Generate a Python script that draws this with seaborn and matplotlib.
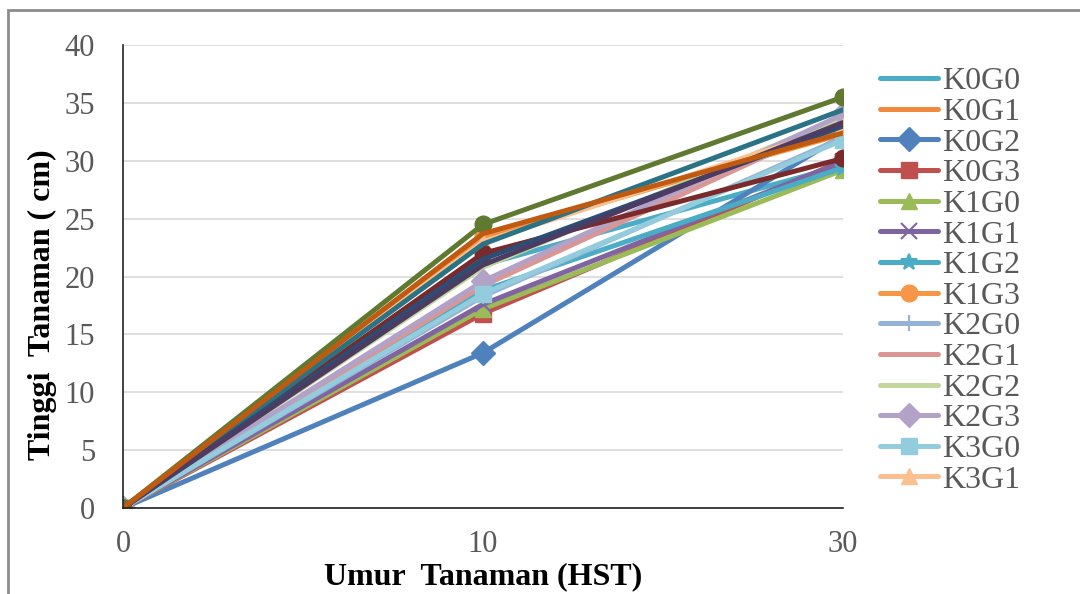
import matplotlib
matplotlib.use("Agg")
import matplotlib.pyplot as plt
import seaborn as sns
import pandas as pd
from matplotlib.patches import Rectangle

# ---- data ----
categories = ["0", "10", "30"]
series_names = ["K0G0", "K0G1", "K0G2", "K0G3", "K1G0", "K1G1", "K1G2", "K1G3",
                "K2G0", "K2G1", "K2G2", "K2G3", "K3G0", "K3G1",
                "K3G2", "K3G3", "K4G0", "K4G1", "K4G2", "K4G3"]
K0G0 = [0, 21.0, 29.6]
K0G1 = [0, 23.3, 32.5]
K0G2 = [0, 13.4, 32.2]
K0G3 = [0, 16.8, 30.0]
K1G0 = [0, 17.2, 29.2]
K1G1 = [0, 17.6, 29.9]
K1G2 = [0, 18.8, 29.4]
K1G3 = [0, 23.6, 32.3]
K2G0 = [0, 18.3, 32.0]
K2G1 = [0, 19.2, 33.5]
K2G2 = [0, 20.8, 33.8]
K2G3 = [0, 19.6, 34.0]
K3G0 = [0, 18.5, 31.8]
K3G1 = [0, 23.0, 33.0]
K3G2 = [0, 22.0, 30.2]
K3G3 = [0, 24.5, 35.5]
K4G0 = [0, 22.8, 34.4]
K4G1 = [0, 21.5, 33.0]
K4G2 = [0, 21.0, 33.3]
K4G3 = [0, 23.7, 32.4]
values = [K0G0, K0G1, K0G2, K0G3, K1G0, K1G1, K1G2, K1G3, K2G0, K2G1,
          K2G2, K2G3, K3G0, K3G1, K3G2, K3G3, K4G0, K4G1, K4G2, K4G3]

# ---- styles ----
colors = ["#4BACC6", "#F08A3C", "#4F81BD", "#C0504D", "#9BBB59", "#8064A2",
          "#4BACC6", "#F79646", "#95B3D7", "#D99694", "#C3D69B", "#B3A2C7",
          "#93CDDD", "#FAC090", "#7A2A2A", "#5F7A30", "#2A7384", "#2C4D75",
          "#4D3B62", "#C05A10"]
markers = [None, None, "D", "s", "^", "x", "*", "o", "+", None, None, "D",
           "s", "^", "o", "o", None, None, None, None]

sns.set_theme(style="white")
plt.rcParams["font.family"] = ["Liberation Serif", "DejaVu Serif"]

fig = plt.figure(figsize=(10.8, 5.94), dpi=100)
W, H = 1080, 594
ax = fig.add_axes([123 / W, 1 - 508 / H, (843 - 123) / W, (508 - 45) / H])

pos = list(range(len(categories)))
rows = []
for name, vals in zip(series_names, values):
    for p, v in zip(pos, vals):
        rows.append({"series": name, "pos": p, "val": v})
df = pd.DataFrame(rows)

for name, col, mk in zip(series_names, colors, markers):
    sub = df[df["series"] == name]
    kw = {}
    if mk is not None:
        kw = dict(marker=mk, markersize=12, markeredgecolor=col, markerfacecolor=col,
                  markeredgewidth=1.5 if mk in ("x", "+", "*") else 1)
    sns.lineplot(data=sub, x="pos", y="val", color=col, linewidth=3.6, ax=ax,
                 label=name, legend=False, **kw)

ax.set_xlim(0, 2)
ax.set_ylim(0, 40)
ax.set_yticks(range(0, 41, 5))
ax.set_xticks(pos)
ax.set_xticklabels(categories)
ax.grid(axis="y", color="#D9D9D9", linewidth=1.2)
ax.grid(axis="x", visible=False)
for s in ["top", "right"]:
    ax.spines[s].set_visible(False)
for s in ["left", "bottom"]:
    ax.spines[s].set_color("#222222")
    ax.spines[s].set_linewidth(1.2)
ax.tick_params(axis="y", direction="in", length=8, width=1.2, color="#222222",
               labelsize=22, labelcolor="#595959", pad=20)
ax.tick_params(axis="x", length=0, labelsize=22, labelcolor="#595959", pad=16)
ax.set_xlabel("Umur  Tanaman (HST)", fontsize=23, fontweight="bold", color="black")
ax.set_ylabel("Tinggi  Tanaman ( cm)", fontsize=23, fontweight="bold", color="black")
ax.xaxis.set_label_coords(0.5, -0.118)
ax.yaxis.set_label_coords(-0.092, 0.44)

handles, labels = ax.get_legend_handles_labels()
leg = fig.legend(handles[:14], labels[:14], loc="upper left",
                 bbox_to_anchor=(880 / W, 1 - 67 / H), frameon=False,
                 fontsize=23, labelspacing=0.04, handlelength=1.8,
                 handletextpad=0.15, borderaxespad=0, borderpad=0)
for t in leg.get_texts():
    t.set_color("#595959")

fig.patches.append(Rectangle((8 / W, -0.1), 1.2, 1 - 10 / H + 0.1, transform=fig.transFigure,
                             fill=False, edgecolor="#8C8C8C", linewidth=2))

fig.savefig("out.png", dpi=100)
